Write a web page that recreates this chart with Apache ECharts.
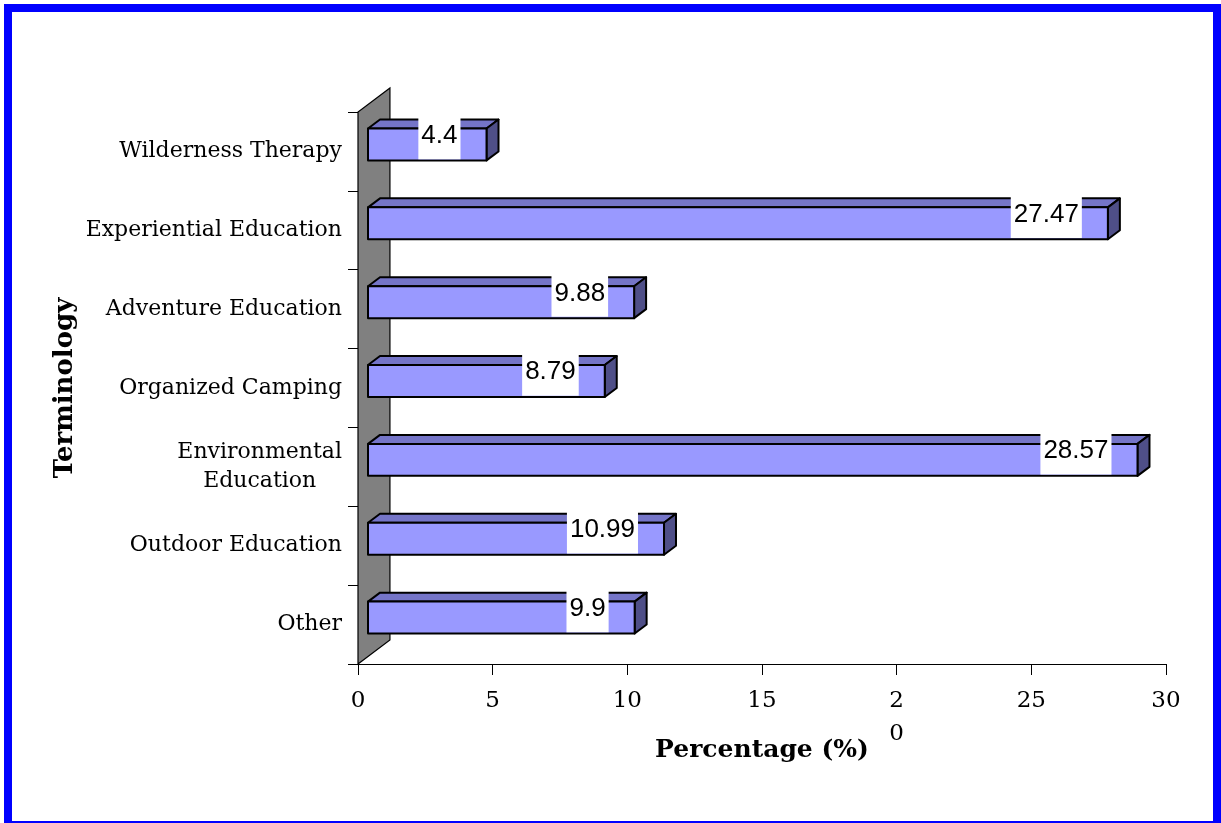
<!DOCTYPE html>
<html>
<head>
<meta charset="utf-8">
<script src="https://cdn.jsdelivr.net/npm/echarts@6/dist/echarts.min.js"></script>
<style>
  html, body { margin: 0; padding: 0; background: #fff; }
  #frame {
    position: absolute; left: 4px; top: 4px;
    width: 1201px; height: 809px;
    border: 8px solid #0000ff; border-bottom-width: 2px;
  }
  #chart { position: absolute; left: 0; top: 0; width: 1221px; height: 823px; }
</style>
</head>
<body>
<div id="frame"></div>
<div id="chart"></div>
<script>
// data
const categories = [
  'Wilderness Therapy',
  'Experiential Education',
  'Adventure Education',
  'Organized Camping',
  'Environmental\nEducation',
  'Outdoor Education',
  'Other'
]
const values = [4.4, 27.47, 9.88, 8.79, 28.57, 10.99, 9.9]
const xTickLabels = ['0', '5', '10', '15', '2\n0', '25', '30']

const serif = '"DejaVu Serif", Georgia, serif'
const sans = '"Liberation Sans", Arial, sans-serif'

const chart = echarts.init(document.getElementById('chart'))

// gray back wall of the 3D plot
const renderWall = (params, api) => {
  const cs = params.coordSys
  const band = cs.height / categories.length
  const dx = band * 0.405
  const dy = band * 0.304
  return {
    type: 'polygon',
    shape: {
      points: [
        [cs.x, cs.y + cs.height],
        [cs.x, cs.y],
        [cs.x + dx, cs.y - dy],
        [cs.x + dx, cs.y + cs.height - dy]
      ]
    },
    style: { fill: '#808080', stroke: '#000', lineWidth: 1.2 }
  }
}

// one 3D bar: front, top and side faces plus the white value box
const renderBar = (params, api) => {
  const v = api.value(0)
  const i = api.value(1)
  const base = api.coord([0, i])
  const end = api.coord([v, i])
  const band = api.size([0, 1])[1]
  const sx = band * 0.127
  const dx = band * 0.152
  const dy = band * 0.114
  const x0 = base[0] + sx
  const x1 = end[0] + sx
  const yT = base[1] - band * 0.291
  const yB = base[1] + band * 0.114
  const edge = { stroke: '#000', lineWidth: 2, lineJoin: 'round' }
  return {
    type: 'group',
    children: [
      {
        type: 'polygon',
        shape: { points: [[x0, yT], [x1, yT], [x1 + dx, yT - dy], [x0 + dx, yT - dy]] },
        style: Object.assign({ fill: '#7575c8' }, edge)
      },
      {
        type: 'polygon',
        shape: { points: [[x1, yT], [x1 + dx, yT - dy], [x1 + dx, yB - dy], [x1, yB]] },
        style: Object.assign({ fill: '#4f4f88' }, edge)
      },
      {
        type: 'rect',
        shape: { x: x0, y: yT, width: x1 - x0, height: yB - yT },
        style: Object.assign({ fill: '#9999ff' }, edge)
      },
      {
        type: 'text',
        x: x1 - band * 0.33,
        y: base[1] - band * 0.2,
        style: {
          text: String(v),
          align: 'right',
          verticalAlign: 'middle',
          font: '26px ' + sans,
          fill: '#000',
          backgroundColor: '#fff',
          padding: [5, 3, 16, 3]
        }
      }
    ]
  }
}

const option = {
  animation: false,
  grid: { left: 358, top: 112, right: 55, bottom: 159 },
  xAxis: {
    type: 'value',
    min: 0,
    max: 30,
    interval: 5,
    name: 'Percentage (%)',
    nameLocation: 'middle',
    nameGap: 74,
    nameMoveOverlap: false,
    nameTextStyle: { fontFamily: serif, fontSize: 25, fontWeight: 'bold', color: '#000' },
    axisLine: { show: true, lineStyle: { color: '#000', width: 1 } },
    axisTick: { show: true, length: 11, lineStyle: { color: '#000' } },
    axisLabel: {
      margin: 21,
      fontFamily: serif,
      fontSize: 23,
      color: '#000',
      lineHeight: 33,
      formatter: (v) => xTickLabels[Math.round(v / 5)]
    },
    splitLine: { show: false }
  },
  yAxis: {
    type: 'category',
    data: categories,
    inverse: true,
    name: 'Terminology',
    nameLocation: 'middle',
    nameGap: 280,
    nameMoveOverlap: false,
    nameTextStyle: { fontFamily: serif, fontSize: 26, fontWeight: 'bold', color: '#000' },
    axisLine: { show: true, lineStyle: { color: '#000', width: 1 } },
    axisTick: { show: true, length: 10, lineStyle: { color: '#000' } },
    axisLabel: {
      margin: 16,
      fontFamily: serif,
      fontSize: 22,
      color: '#000',
      formatter: (v) => v.indexOf('\n') >= 0
        ? v.split('\n').map(s => '{c|' + s + '}').join('\n')
        : v,
      rich: {
        c: { align: 'center', lineHeight: 29, fontFamily: serif, fontSize: 22, color: '#000' }
      }
    }
  },
  series: [
    {
      type: 'custom',
      silent: true,
      renderItem: renderWall,
      data: [[0, 0]],
      encode: { x: 0, y: 1 },
      z: 1
    },
    {
      type: 'custom',
      silent: true,
      renderItem: renderBar,
      data: values.map((v, i) => [v, i]),
      encode: { x: 0, y: 1 },
      clip: false,
      z: 2
    }
  ]
}

chart.setOption(option)
</script>
</body>
</html>
